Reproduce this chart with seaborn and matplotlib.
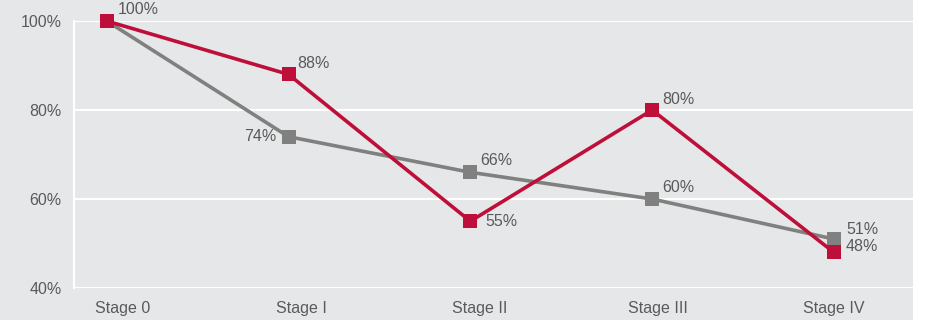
import matplotlib
matplotlib.use("Agg")
import matplotlib.pyplot as plt
import matplotlib.transforms as mtransforms
import seaborn as sns
import pandas as pd
from matplotlib.patches import Rectangle

stages = ["Stage 0", "Stage I", "Stage II", "Stage III", "Stage IV"]
red_vals = [100, 88, 55, 80, 48]
gray_vals = [100, 74, 66, 60, 51]
yticks = [40, 60, 80, 100]

RED = "#be0f3a"
GRAY = "#808080"
BG = "#e6e7e8"
TXT = "#5a5a5a"
FS = 11.5

sns.set_theme(style="white")
plt.rcParams["font.family"] = ["Liberation Sans", "DejaVu Sans"]

fig = plt.figure(figsize=(9.27, 3.2), dpi=100, facecolor="white")
fig.patches.append(Rectangle((0, 0), 913 / 927, 1, transform=fig.transFigure,
                             facecolor=BG, edgecolor="none", zorder=-10))
ax = fig.add_axes([74 / 927, 32 / 320, (913 - 74) / 927, (288 - 21) / 320])
ax.set_facecolor(BG)

df = pd.DataFrame({
    "x": list(range(len(stages))) * 2,
    "value": gray_vals + red_vals,
    "series": ["gray"] * len(stages) + ["red"] * len(stages),
})
sns.lineplot(data=df, x="x", y="value", hue="series",
             palette={"gray": GRAY, "red": RED}, marker="s", markersize=9.5,
             markeredgewidth=0, linewidth=2.6, legend=False, ax=ax, zorder=3)

ax.set_xlim(-0.18, 4.435)
ax.set_ylim(40, 100)
ax.set_yticks(yticks)
ax.set_yticklabels([f"{v}%" for v in yticks])
ax.set_xticks(range(len(stages)))
ax.set_xticklabels(stages)
ax.set_xlabel("")
ax.set_ylabel("")
ax.tick_params(axis="both", length=0, labelsize=FS, colors=TXT)
ax.tick_params(axis="y", pad=9)
ax.tick_params(axis="x", pad=9)
ax.grid(axis="y", color="white", linewidth=1.5)
ax.set_axisbelow(True)
for s in ["top", "right", "bottom"]:
    ax.spines[s].set_visible(False)
ax.spines["left"].set_color("white")
ax.spines["left"].set_linewidth(1.5)
for lbl in ax.get_xticklabels() + ax.get_yticklabels():
    lbl.set_color(TXT)

# small horizontal nudges of the category labels, as in the reference
nudges = [16, 13, 9, 6, 0]
for lbl, dx in zip(ax.get_xticklabels(), nudges):
    lbl.set_transform(lbl.get_transform() +
                      mtransforms.ScaledTranslation(dx / 100, 0, fig.dpi_scale_trans))

red_off = [(11, 11, "left"), (9, 11, "left"), (15, 0, "left"), (10, 11, "left"), (12, 6, "left")]
gray_off = [None, (-12, 0, "right"), (10, 12, "left"), (10, 11, "left"), (12, 10, "left")]

for i, v in enumerate(red_vals):
    dx, dy, ha = red_off[i]
    ax.annotate(f"{v}%", (i, v), xytext=(dx, dy), textcoords="offset pixels",
                ha=ha, va="center", fontsize=FS, color=TXT, zorder=5,
                annotation_clip=False)
for i, v in enumerate(gray_vals):
    if gray_off[i] is None:
        continue
    dx, dy, ha = gray_off[i]
    ax.annotate(f"{v}%", (i, v), xytext=(dx, dy), textcoords="offset pixels",
                ha=ha, va="center", fontsize=FS, color=TXT, zorder=5,
                annotation_clip=False)

for line in ax.lines:
    line.set_clip_on(False)

fig.savefig("out.png", dpi=100, facecolor=fig.get_facecolor())
